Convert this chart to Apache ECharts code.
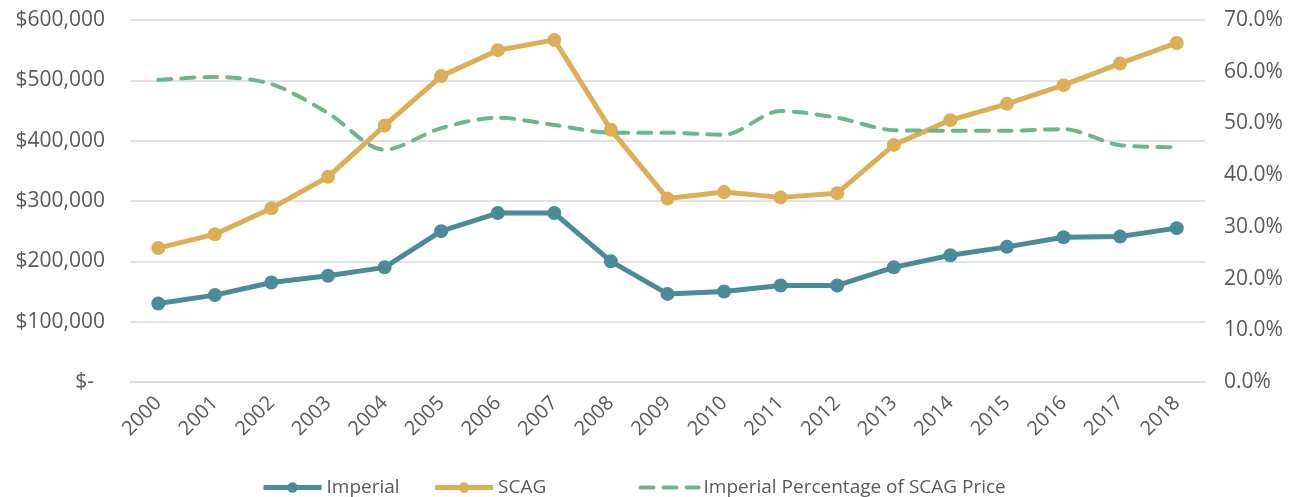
<!DOCTYPE html>
<html>
<head>
<meta charset="utf-8">
<script src="https://cdn.jsdelivr.net/npm/echarts@6/dist/echarts.min.js"></script>
<style>
  html, body { margin: 0; padding: 0; background: #fff; }
  #chart { width: 1297px; height: 497px; }
</style>
</head>
<body>
<div id="chart"></div>
<script>
// median home price
const years = ['2000', '2001', '2002', '2003', '2004', '2005', '2006', '2007', '2008', '2009',
  '2010', '2011', '2012', '2013', '2014', '2015', '2016', '2017', '2018']
const imperial = [130000, 144000, 165000, 176000, 190000, 250000, 280000, 280000, 200000, 146000,
  150000, 160000, 160000, 190000, 210000, 224000, 240000, 241000, 255000]
const scag = [222000, 245000, 288000, 340000, 425000, 507000, 550000, 567000, 418000, 304000,
  315000, 306000, 313000, 393000, 434000, 461000, 492000, 528000, 562000]
const pctOfScag = [0.584, 0.590, 0.576, 0.520, 0.449, 0.491, 0.511, 0.497, 0.482, 0.482,
  0.478, 0.524, 0.511, 0.487, 0.486, 0.486, 0.489, 0.458, 0.454]

const textColor = '#595959'
const fontFamily = 'Open Sans, Liberation Sans, sans-serif'

let myChart = echarts.init(document.getElementById('chart'))
let option = {
  animation: false,
  textStyle: { fontFamily: fontFamily },
  grid: { left: 130, right: 92, top: 20, bottom: 115 },
  legend: {
    top: 473,
    left: 256,
    itemWidth: 58,
    itemHeight: 13,
    itemGap: 33,
    lineStyle: { width: 5 },
    // excel leaves a wide slot after the short SCAG label
    formatter: name => name === 'SCAG' ? name + '\u00a0'.repeat(12) : name,
    textStyle: { color: textColor, fontSize: 19, fontFamily: fontFamily },
    data: [
      { name: 'Imperial' },
      { name: 'SCAG' },
      { name: 'Imperial Percentage of SCAG Price', itemStyle: { opacity: 0 }, lineStyle: { width: 4 } }
    ]
  },
  xAxis: {
    type: 'category',
    data: years,
    boundaryGap: true,
    axisLine: { show: true, lineStyle: { color: '#d9d9d9', width: 1.5 } },
    axisTick: { show: false },
    axisLabel: { rotate: 45, margin: 18, color: textColor, fontSize: 20 }
  },
  yAxis: [
    {
      type: 'value',
      min: 0,
      max: 600000,
      interval: 100000,
      axisLine: { show: false },
      axisTick: { show: false },
      splitLine: { lineStyle: { color: '#d9d9d9', width: 1.5 } },
      axisLabel: {
        margin: 25,
        color: textColor,
        fontSize: 21,
        formatter: v => v === 0 ? '$-  ' : '$' + v.toLocaleString('en-US')
      }
    },
    {
      type: 'value',
      min: 0,
      max: 0.7,
      interval: 0.1,
      axisLine: { show: false },
      axisTick: { show: false },
      splitLine: { show: false },
      axisLabel: {
        margin: 19,
        color: textColor,
        fontSize: 21,
        formatter: v => (v * 100).toFixed(1) + '%'
      }
    }
  ],
  series: [
    {
      name: 'Imperial',
      type: 'line',
      data: imperial,
      symbol: 'circle',
      symbolSize: 14,
      lineStyle: { color: '#4a8a99', width: 5 },
      itemStyle: { color: '#4a8a99' }
    },
    {
      name: 'SCAG',
      type: 'line',
      data: scag,
      symbol: 'circle',
      symbolSize: 14,
      lineStyle: { color: '#dcae56', width: 5 },
      itemStyle: { color: '#dcae56' }
    },
    {
      name: 'Imperial Percentage of SCAG Price',
      type: 'line',
      yAxisIndex: 1,
      data: pctOfScag,
      smooth: 0.3,
      showSymbol: false,
      symbol: 'none',
      lineStyle: { color: '#6db68a', width: 4, type: [13, 10], cap: 'round' },
      itemStyle: { color: '#6db68a' }
    }
  ]
}
option && myChart.setOption(option)
window.addEventListener('resize', () => { myChart.resize() })
</script>
</body>
</html>
